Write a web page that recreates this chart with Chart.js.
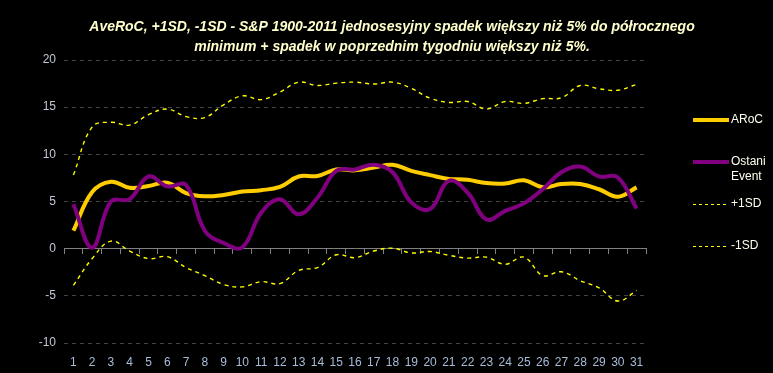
<!DOCTYPE html>
<html>
<head>
<meta charset="utf-8">
<script src="https://cdn.jsdelivr.net/npm/chart.js@4.4.0/dist/chart.umd.min.js"></script>
<style>
html,body{margin:0;padding:0;background:#000;}
canvas{display:block;}
</style>
</head>
<body>
<canvas id="c" width="773" height="373"></canvas>
<script>
const TITLE_LINES = [
  "AveRoC, +1SD, -1SD - S&P 1900-2011 jednosesyjny spadek większy niż 5% do półrocznego",
  "minimum + spadek w poprzednim tygodniu większy niż 5%."
];
const CATEGORIES = ["1","2","3","4","5","6","7","8","9","10","11","12","13","14","15","16","17","18","19","20","21","22","23","24","25","26","27","28","29","30","31"];
const AROC = [1.9, 6.0, 7.1, 6.45, 6.65, 7.0, 5.9, 5.55, 5.7, 6.05, 6.2, 6.55, 7.65, 7.7, 8.4, 8.3, 8.6, 8.9, 8.25, 7.8, 7.4, 7.3, 6.95, 6.9, 7.25, 6.5, 6.85, 6.85, 6.3, 5.5, 6.5];
const OSTANI_EVENT = [4.7, 0.1, 5.0, 5.25, 7.65, 6.6, 6.75, 1.9, 0.6, 0.15, 3.8, 5.25, 3.65, 5.4, 8.25, 8.4, 8.9, 8.1, 4.9, 4.2, 7.2, 5.95, 3.1, 4.0, 4.8, 6.3, 8.1, 8.7, 7.65, 7.55, 4.25];
const PLUS_1SD = [7.8, 12.9, 13.4, 13.1, 14.2, 14.8, 14.0, 13.9, 15.25, 16.2, 15.8, 16.6, 17.65, 17.3, 17.55, 17.65, 17.45, 17.65, 17.0, 15.95, 15.5, 15.6, 14.8, 15.6, 15.4, 15.9, 16.0, 17.3, 16.95, 16.8, 17.4];
const MINUS_1SD = [-3.9, -1.05, 0.8, -0.25, -1.05, -0.85, -2.0, -2.85, -3.8, -4.05, -3.5, -3.7, -2.3, -2.0, -0.65, -0.95, -0.25, 0.05, -0.45, -0.3, -0.7, -1.0, -0.9, -1.65, -0.9, -2.85, -2.45, -3.4, -4.15, -5.55, -4.45];
const Y_MIN = -10, Y_MAX = 20, Y_STEP = 5;
const LEGEND_LABELS = [["ARoC"], ["Ostani", "Event"], ["+1SD"], ["-1SD"]];

const FONT = "'Liberation Sans', Arial, sans-serif";

const titlePlugin = {
  id: 'titleDraw',
  afterDraw(chart) {
    const ctx = chart.ctx;
    ctx.save();
    ctx.font = "italic bold 14px " + FONT;
    ctx.fillStyle = '#ffffcc';
    ctx.textAlign = 'center';
    ctx.textBaseline = 'middle';
    ctx.fillText(TITLE_LINES[0], 392, 27);
    ctx.fillText(TITLE_LINES[1], 392, 47);
    ctx.restore();
  }
};

const legendPlugin = {
  id: 'legendDraw',
  afterDraw(chart) {
    const ctx = chart.ctx;
    const items = [
      {ds: 1, y: 120},
      {ds: 0, y: 162},
      {ds: 2, y: 204},
      {ds: 3, y: 246}
    ];
    ctx.save();
    items.forEach((it, idx) => {
      const d = chart.data.datasets[it.ds];
      ctx.beginPath();
      ctx.strokeStyle = d.borderColor;
      ctx.lineWidth = d.borderWidth >= 2 ? d.borderWidth : 1;
      ctx.setLineDash(d.borderDash ? [3, 3] : []);
      const yy = d.borderWidth >= 2 ? it.y : it.y + 0.5;
      ctx.moveTo(693, yy);
      ctx.lineTo(729, yy);
      ctx.stroke();
      ctx.setLineDash([]);
      ctx.font = "12px " + FONT;
      ctx.fillStyle = '#fffff0';
      ctx.textAlign = 'left';
      ctx.textBaseline = 'middle';
      LEGEND_LABELS[idx].forEach((t, k) => ctx.fillText(t, 731, it.y + k * 15));
    });
    ctx.restore();
  }
};

new Chart(document.getElementById('c'), {
  type: 'line',
  data: {
    labels: CATEGORIES,
    datasets: [
      { label: 'Ostani Event', data: OSTANI_EVENT, borderColor: '#800080', borderWidth: 4, pointRadius: 0, tension: 0.4, order: 0, xAxisID: 'x' },
      { label: 'ARoC', data: AROC, borderColor: '#ffcc00', borderWidth: 4, pointRadius: 0, tension: 0.4, order: 1, xAxisID: 'x' },
      { label: '+1SD', data: PLUS_1SD, borderColor: '#ffff00', borderWidth: 1.4, borderDash: [4, 4], pointRadius: 0, tension: 0.4, order: 2, xAxisID: 'x' },
      { label: '-1SD', data: MINUS_1SD, borderColor: '#ffff00', borderWidth: 1.4, borderDash: [4, 4], pointRadius: 0, tension: 0.4, order: 3, xAxisID: 'x' }
    ]
  },
  options: {
    responsive: false,
    animation: false,
    layout: { padding: { top: 60, right: 127, left: 0, bottom: 0 } },
    plugins: { legend: { display: false }, title: { display: false }, tooltip: { enabled: false } },
    scales: {
      x: {
        type: 'category',
        position: 'bottom',
        offset: true,
        grid: { display: false },
        border: { display: false },
        ticks: { color: '#a8bcd8', font: { family: FONT, size: 12 }, padding: 4, maxRotation: 0, autoSkip: false },
        afterFit(s) { s.height = 30; }
      },
      x2: {
        type: 'category',
        labels: CATEGORIES,
        position: { y: 0 },
        offset: true,
        grid: { offset: true, drawOnChartArea: false, drawTicks: true, tickLength: 5, color: '#808080' },
        border: { display: true, color: '#808080', width: 1 },
        ticks: { display: false }
      },
      y: {
        min: Y_MIN, max: Y_MAX,
        ticks: { stepSize: Y_STEP, color: '#c0c8d8', font: { family: FONT, size: 12 }, padding: 8 },
        grid: {
          drawTicks: false,
          color: (ctx) => ctx.tick && ctx.tick.value === 0 ? 'rgba(0,0,0,0)' : '#444444',
          lineWidth: 1
        },
        border: { display: false, dash: [4, 4] },
        afterFit(s) { s.width = 64; }
      }
    }
  },
  plugins: [titlePlugin, legendPlugin]
});
</script>
</body>
</html>
